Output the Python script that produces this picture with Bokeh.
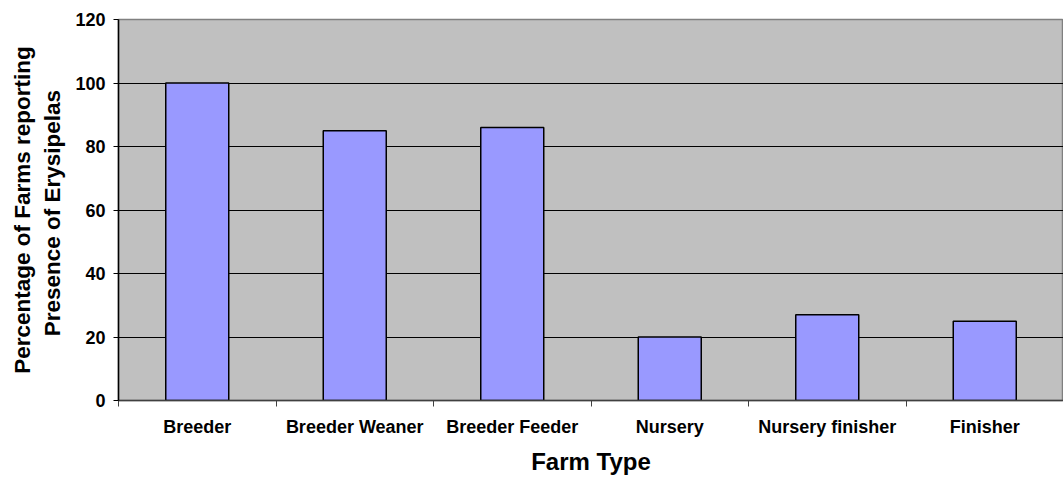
from bokeh.plotting import figure
from bokeh.models import Range1d, FixedTicker, CustomJSTickFormatter
from bokeh.embed import file_html
from bokeh.resources import INLINE

categories = ["Breeder", "Breeder Weaner", "Breeder Feeder", "Nursery",
              "Nursery finisher", "Finisher"]
values = [100, 85, 86, 20, 27, 25]
y_ticks = [0, 20, 40, 60, 80, 100, 120]

x_pos = [i + 0.5 for i in range(len(categories))]

p = figure(width=1063, height=477, x_range=Range1d(0, len(categories)),
           y_range=Range1d(0, 120), output_backend="svg", toolbar_location=None,
           min_border_left=118, min_border_right=0, min_border_top=19,
           min_border_bottom=77)

p.background_fill_color = "#C0C0C0"
p.border_fill_color = "white"
p.outline_line_color = "#808080"
p.outline_line_width = 1.5

p.vbar(x=x_pos, top=values, width=0.40, fill_color="#9999FF",
       line_color="black", line_width=1.5)

p.xgrid.visible = False
p.ygrid.ticker = FixedTicker(ticks=[t for t in y_ticks if 0 < t < 120])
p.ygrid.grid_line_color = "black"
p.ygrid.grid_line_width = 1

FONT = "Liberation Sans"

# x axis
xa = p.xaxis[0]
xa.ticker = FixedTicker(ticks=x_pos, minor_ticks=list(range(len(categories) + 1)))
xa.formatter = CustomJSTickFormatter(args=dict(cats=categories),
                                     code="const i = Math.floor(tick); return (i >= 0 && i < cats.length) ? cats[i] : '';")
xa.major_tick_line_color = None
xa.major_tick_in = 0
xa.major_tick_out = 6
xa.minor_tick_in = 0
xa.minor_tick_out = 6
xa.minor_tick_line_color = "#404040"
xa.axis_line_color = "#404040"
xa.axis_line_width = 1.5
xa.major_label_text_font = FONT
xa.major_label_text_font_style = "bold"
xa.major_label_text_font_size = "18px"
xa.major_label_text_color = "black"
xa.major_label_standoff = 10
xa.axis_label = "Farm Type"
xa.axis_label_text_font = FONT
xa.axis_label_text_font_style = "bold"
xa.axis_label_text_font_size = "24px"
xa.axis_label_text_color = "black"
xa.axis_label_standoff = 8

# y axis
ya = p.yaxis[0]
ya.ticker = FixedTicker(ticks=y_ticks)
ya.major_tick_in = 0
ya.major_tick_out = 5
ya.minor_tick_line_color = None
ya.major_tick_line_color = "black"
ya.axis_line_color = "black"
ya.axis_line_width = 1.5
ya.major_label_text_font = FONT
ya.major_label_text_font_style = "bold"
ya.major_label_text_font_size = "18px"
ya.major_label_text_color = "black"
ya.major_label_standoff = 8
ya.axis_label = "Percentage of Farms reporting\nPresence of  Erysipelas"
ya.axis_label_text_font = FONT
ya.axis_label_text_font_style = "bold"
ya.axis_label_text_font_size = "22.5px"
ya.axis_label_text_color = "black"
ya.axis_label_standoff = 7

open("out.html", "w").write(file_html(p, INLINE))
